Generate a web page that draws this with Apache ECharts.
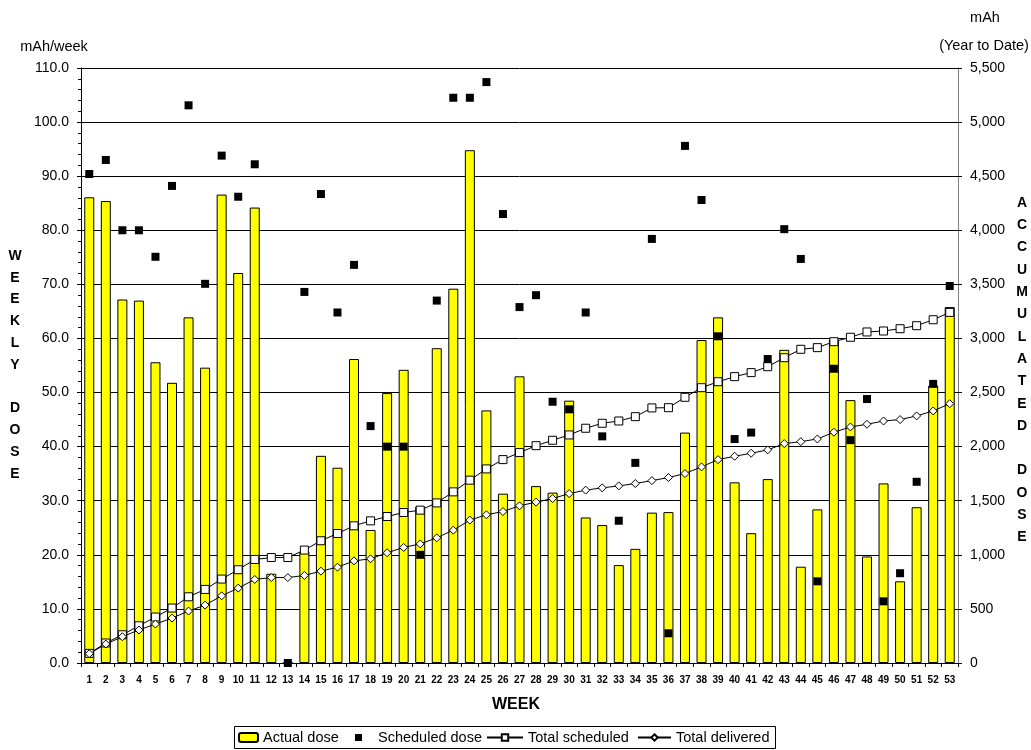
<!DOCTYPE html>
<html>
<head>
<meta charset="utf-8">
<script src="https://cdn.jsdelivr.net/npm/echarts@6/dist/echarts.min.js"></script>
<style>
html,body{margin:0;padding:0;background:#fff;}
#chart{width:1031px;height:750px;}
</style>
</head>
<body>
<div id="chart"></div>
<script>
var weeks = [];
for (var i = 1; i <= 53; i++) weeks.push(String(i));

var actualDose = [86.1, 85.4, 67.2, 67.0, 55.6, 51.8, 63.9, 54.6, 86.6, 72.1, 84.2, 16.5, 0, 20.6, 38.3, 36.1, 56.2, 24.6, 49.9, 54.2, 28.9, 58.2, 69.2, 94.8, 46.7, 31.3, 53.0, 32.7, 31.5, 48.5, 26.9, 25.5, 18.1, 21.1, 27.8, 27.9, 42.6, 59.7, 63.9, 33.4, 24.0, 34.0, 57.9, 17.8, 28.4, 59.8, 48.6, 19.7, 33.2, 15.1, 28.8, 51.3, 65.8];

var scheduledDose = [90.4, 93.0, 80.0, 80.0, 75.1, 88.2, 103.1, 70.1, 93.8, 86.2, 92.2, null, 0, 68.6, 86.7, 64.8, 73.6, 43.8, 40.0, 40.0, 20.0, 67.0, 104.5, 104.5, 107.4, 83.0, 65.8, 68.0, 48.3, 46.9, 64.8, 41.9, 26.3, 37.0, 78.4, 5.5, 95.6, 85.6, 60.4, 41.4, 42.6, 56.2, 80.2, 74.7, 15.1, 54.4, 41.2, 48.8, 11.4, 16.6, 33.5, 51.6, 69.7];

var totalScheduled = [89, 185, 261, 344, 425, 508, 612, 680, 776, 862, 957, 975, 975, 1044, 1130, 1197, 1268, 1314, 1354, 1391, 1413, 1480, 1582, 1690, 1794, 1880, 1945, 2009, 2059, 2108, 2170, 2216, 2237, 2277, 2358, 2360, 2456, 2545, 2600, 2647, 2684, 2739, 2822, 2900, 2915, 2970, 3011, 3060, 3069, 3090, 3118, 3173, 3241];

var totalDelivered = [86, 175, 243, 305, 360, 415, 480, 535, 621, 692, 772, 790, 790, 809, 849, 886, 944, 963, 1019, 1068, 1101, 1157, 1228, 1321, 1370, 1400, 1453, 1487, 1520, 1566, 1598, 1619, 1637, 1659, 1686, 1714, 1751, 1813, 1880, 1911, 1939, 1970, 2028, 2046, 2071, 2133, 2182, 2207, 2237, 2250, 2284, 2330, 2397];

var leftTitle = 'WEEKLY DOSE';
var rightTitle = 'ACCUMULATED DOSE';

var FONT = '"Liberation Sans", Arial, sans-serif';

function verticalLetters(str, x, y0, step) {
  var els = [];
  for (var i = 0; i < str.length; i++) {
    var ch = str.charAt(i);
    if (ch === ' ') continue;
    els.push({
      type: 'text', x: x, y: y0 + i * step,
      style: { text: ch, fill: '#000', font: 'bold 14px ' + FONT, textAlign: 'center', textVerticalAlign: 'middle' }
    });
  }
  return els;
}

var graphics = [
  { type: 'text', x: 54, y: 47, style: { text: 'mAh/week', fill: '#000', font: '14.5px ' + FONT, textAlign: 'center', textVerticalAlign: 'middle' } },
  { type: 'text', x: 985, y: 18, style: { text: 'mAh', fill: '#000', font: '14.5px ' + FONT, textAlign: 'center', textVerticalAlign: 'middle' } },
  { type: 'text', x: 984, y: 46, style: { text: '(Year to Date)', fill: '#000', font: '14.5px ' + FONT, textAlign: 'center', textVerticalAlign: 'middle' } },
  { type: 'text', x: 516, y: 705, style: { text: 'WEEK', fill: '#000', font: 'bold 16px ' + FONT, textAlign: 'center', textVerticalAlign: 'middle' } },
  { type: 'rect', shape: { x: 234.5, y: 726.5, width: 541, height: 22 }, style: { fill: 'none', stroke: '#000', lineWidth: 1 }, z: 0 }
].concat(verticalLetters(leftTitle, 15, 256, 21.8)).concat(verticalLetters(rightTitle, 1022, 203, 22.3));

var legendText = { color: '#000', fontSize: 14.5, fontFamily: FONT };

var chart = echarts.init(document.getElementById('chart'));
chart.setOption({
  animation: false,
  backgroundColor: '#fff',
  textStyle: { fontFamily: FONT },
  grid: { left: 81, right: 73, top: 68, bottom: 87, containLabel: false },
  legend: [
    { data: ['Actual dose'], left: 238, top: 730, itemWidth: 19, itemHeight: 9, textStyle: legendText, selectedMode: false, padding: 0 },
    { data: [{ name: 'Scheduled dose', icon: 'rect' }], left: 355, top: 730, itemWidth: 7, itemHeight: 7, textStyle: Object.assign({ padding: [0, 0, 0, 11] }, legendText), selectedMode: false, padding: 0 },
    { data: ['Total scheduled'], left: 486, top: 730, itemWidth: 36, itemHeight: 8, textStyle: legendText, selectedMode: false, padding: 0 },
    { data: ['Total delivered'], left: 637, top: 730, itemWidth: 33, itemHeight: 8, textStyle: legendText, selectedMode: false, padding: 0 }
  ],
  xAxis: {
    type: 'category',
    data: weeks,
    boundaryGap: true,
    axisLine: { show: true, lineStyle: { color: '#000', width: 1 } },
    axisTick: { show: true, length: 4, interval: 0, lineStyle: { color: '#000' } },
    axisLabel: { interval: 0, color: '#000', fontSize: 10, fontWeight: 'bold', margin: 12, fontFamily: FONT },
    splitLine: { show: false }
  },
  yAxis: [
    {
      type: 'value', min: 0, max: 110, interval: 10, position: 'left',
      axisLine: { show: true, lineStyle: { color: '#000', width: 1 } },
      axisTick: { show: true, length: 4, lineStyle: { color: '#000' } },
      minorTick: { show: true, splitNumber: 5, length: 3, lineStyle: { color: '#000' } },
      axisLabel: { color: '#000', fontSize: 14, margin: 12, fontFamily: FONT, formatter: function (v) { return v.toFixed(1); } },
      splitLine: { show: true, lineStyle: { color: '#000', width: 1 } }
    },
    {
      type: 'value', min: 0, max: 5500, interval: 500, position: 'right',
      axisLine: { show: true, lineStyle: { color: '#808080', width: 1 } },
      axisTick: { show: true, length: 4, lineStyle: { color: '#000' } },
      axisLabel: { color: '#000', fontSize: 14, margin: 12, fontFamily: FONT, formatter: function (v) { return v.toLocaleString('en-US'); } },
      splitLine: { show: false }
    }
  ],
  series: [
    {
      name: 'Actual dose', type: 'bar', yAxisIndex: 0, data: actualDose, barWidth: 10,
      itemStyle: { color: '#FFFF00', borderColor: '#000', borderWidth: 1 }, z: 2
    },
    {
      name: 'Total scheduled', type: 'line', yAxisIndex: 1, data: totalScheduled,
      symbol: 'rect', symbolSize: 8, showAllSymbol: true,
      lineStyle: { color: '#000', width: 1 },
      itemStyle: { color: '#fff', borderColor: '#000', borderWidth: 1 }, z: 3
    },
    {
      name: 'Total delivered', type: 'line', yAxisIndex: 1, data: totalDelivered,
      symbol: 'diamond', symbolSize: 8, showAllSymbol: true,
      lineStyle: { color: '#000', width: 1 },
      itemStyle: { color: '#fff', borderColor: '#000', borderWidth: 1 }, z: 3
    },
    {
      name: 'Scheduled dose', type: 'scatter', yAxisIndex: 0, data: scheduledDose,
      symbol: 'rect', symbolSize: 8,
      itemStyle: { color: '#000', opacity: 1 }, z: 4
    }
  ],
  graphic: graphics
});
</script>
</body>
</html>
